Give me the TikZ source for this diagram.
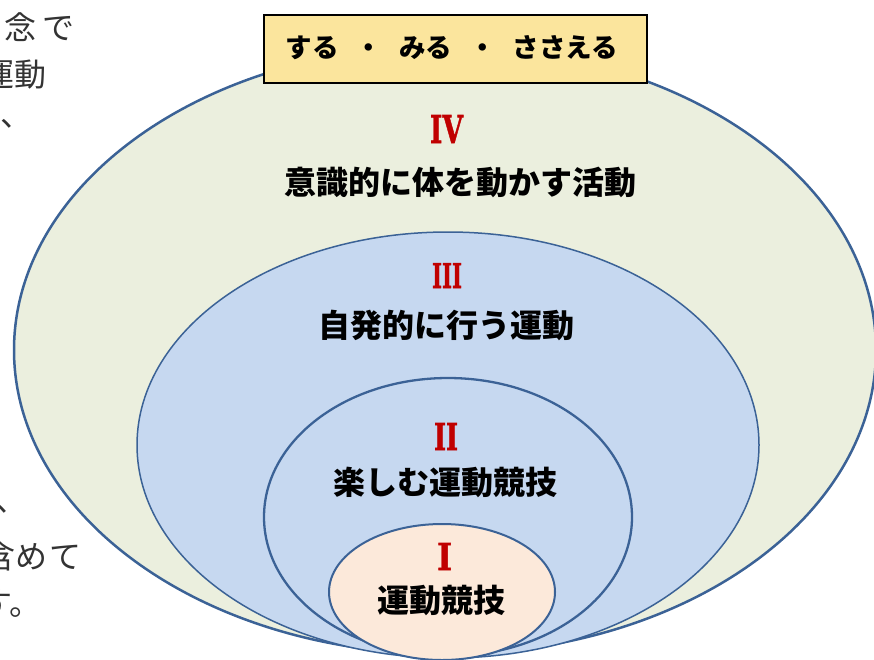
\documentclass[tikz,border=0pt]{standalone}
\usepackage{fontspec}
\usepackage{graphicx}
\setmainfont{Liberation Serif}
\newfontfamily\jp{Noto Sans CJK JP}
\newfontfamily\numfont[BoldFeatures={FakeBold=1.5}]{DejaVu Serif}
\usetikzlibrary{shapes.geometric}
\definecolor{edge}{HTML}{3B6296}
\definecolor{outerfill}{HTML}{EBEFDE}
\definecolor{bluefill}{HTML}{C6D8F0}
\definecolor{corefill}{HTML}{FCE9DA}
\definecolor{boxfill}{HTML}{FBE59D}
\definecolor{numred}{HTML}{C00000}
\definecolor{sidegray}{HTML}{333333}
\tikzset{
  zone/.style={ellipse, draw=edge, inner sep=0pt, outer sep=0pt},
  lab/.style={font=\jp\bfseries\fontsize{32}{38}\selectfont, text=black, inner sep=0pt},
  num/.style={font=\numfont\bfseries, text=numred, inner sep=0pt},
  side/.style={font=\jp\fontsize{32}{38}\selectfont, text=sidegray, inner sep=0pt},
  titlebox/.style={draw=black, line width=2pt, fill=boxfill, inner sep=0pt},
}
\begin{document}
\begin{tikzpicture}[x=1pt,y=-1pt]
\useasboundingbox (0,0) rectangle (874,659);
\clip (0,0) rectangle (874,659);
% side text (cut off at the left edge, as in the source page)
\node[side, anchor=east] (s1) at (75,27) {念\hspace{6pt}で};
\node[side, anchor=east] (s2) at (47,75) {運動};
\node[side, anchor=west] (s3) at (0,124) {、};
\node[side, anchor=west] (s4) at (-5,509) {、};
\node[side, anchor=east] (s5) at (82,556) {含め\hspace{2pt}て};
\node[side, anchor=east] (s6) at (42,604) {す。};
% zones
\node[zone, fill=outerfill, line width=2.5pt, minimum width=862pt, minimum height=608pt] (z4) at (445,350) {};
\node[zone, fill=bluefill, line width=1.5pt, minimum width=622pt, minimum height=426pt] (z3) at (448,445) {};
\node[zone, fill=bluefill, line width=2.3pt, minimum width=368pt, minimum height=278pt] (z2) at (448,517) {};
\node[zone, fill=corefill, line width=2pt, minimum width=226pt, minimum height=136pt] (z1) at (442,592) {};
% title box
\node[titlebox, minimum width=383pt, minimum height=68pt] (tb) at (455.5,49) {};
\node[font=\jp\bfseries\fontsize{26.5}{30}\selectfont, inner sep=0pt] (tt) at (452,48)
  {する\hspace{17pt}・\hspace{17pt}みる\hspace{17pt}・\hspace{17pt}ささえる};
% numerals
\node[num] (n4) at (446.5,129) {\resizebox{33pt}{28pt}{IV}};
\node[num] (n3) at (447,275.5) {\resizebox{30pt}{25pt}{III}};
\node[num] (n2) at (446,436.5) {\resizebox{24pt}{27pt}{II}};
\node[num] (n1) at (444.5,556.5) {\resizebox{15pt}{27pt}{I}};
% labels
\node[lab] (l4) at (460,182) {意識的に体を動かす活動};
\node[lab] (l3) at (446,325) {自発的に行う運動};
\node[lab] (l2) at (445,482) {楽しむ運動競技};
\node[lab] (l1) at (441,600) {運動競技};
\end{tikzpicture}
\end{document}
